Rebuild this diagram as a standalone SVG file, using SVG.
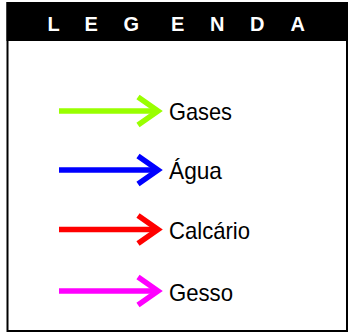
<svg xmlns="http://www.w3.org/2000/svg" width="349" height="333" viewBox="0 0 349 333">
<style>
.frame{fill:#fff;stroke:#000;stroke-width:2}
.head{fill:#000}
.title{font-family:"Liberation Sans",Arial,sans-serif;font-weight:bold;font-size:20px;fill:#fff}
.lbl{font-family:"Liberation Sans",Arial,sans-serif;font-size:24px;fill:#000}
.arr{fill:none;stroke-width:5.5;stroke-linecap:butt;stroke-linejoin:miter}
.gases{stroke:#99ff00}
.agua{stroke:#0000ff}
.calc{stroke:#ff0000}
.gesso{stroke:#ff00ff}
</style>
<g id="legend-frame">
<rect class="frame" x="7.5" y="3" width="339.5" height="328"/>
<rect class="head" x="6.5" y="2" width="341.5" height="39"/>
<text class="title" x="47.5 84.5 123.5 171 210 250 290.5" y="31">LEGENDA</text>
</g>
<g id="connectors">
<g id="arrow-gases" class="arr gases"><line x1="59" y1="111" x2="156" y2="111"/><polyline points="138,97 158,111 138,125"/></g>
<g id="arrow-agua" class="arr agua"><line x1="59" y1="170" x2="156" y2="170"/><polyline points="138,156 158,170 138,184"/></g>
<g id="arrow-calc" class="arr calc"><line x1="59" y1="229.5" x2="156" y2="229.5"/><polyline points="138,215.5 158,229.5 138,243.5"/></g>
<g id="arrow-gesso" class="arr gesso"><line x1="59" y1="291" x2="156" y2="291"/><polyline points="138,277 158,291 138,305"/></g>
</g>
<g id="node-gases"><text class="lbl" x="169" y="120" textLength="63" lengthAdjust="spacingAndGlyphs">Gases</text></g>
<g id="node-agua"><text class="lbl" x="169" y="179" textLength="53" lengthAdjust="spacingAndGlyphs">Água</text></g>
<g id="node-calc"><text class="lbl" x="169" y="238.5" textLength="81" lengthAdjust="spacingAndGlyphs">Calcário</text></g>
<g id="node-gesso"><text class="lbl" x="169" y="301" textLength="64" lengthAdjust="spacingAndGlyphs">Gesso</text></g>
</svg>
